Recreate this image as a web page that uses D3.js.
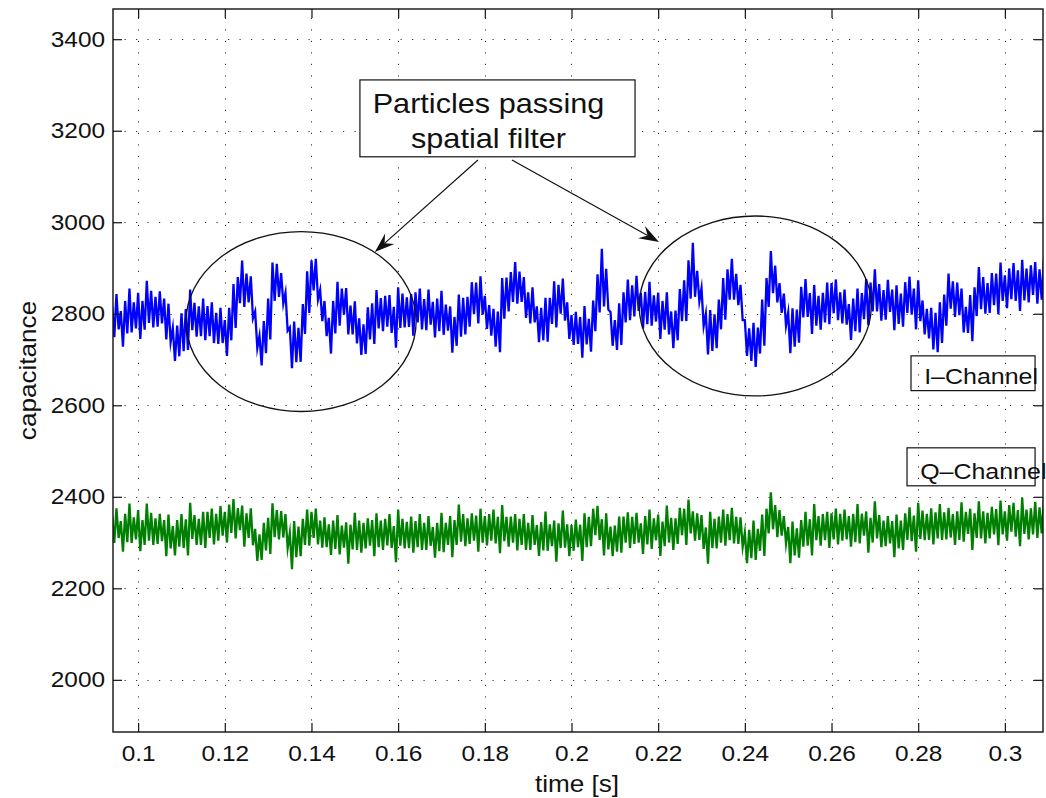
<!DOCTYPE html>
<html>
<head>
<meta charset="utf-8">
<script src="https://cdn.jsdelivr.net/npm/d3@7"></script>
<style>
  body { margin: 0; background: #fff; }
  svg { display: block; }
  text { font-family: "Liberation Sans", Arial, Helvetica, sans-serif; fill: #111; }
</style>
</head>
<body>
<svg id="chart" width="1046" height="798"></svg>
<script>
// Sampling of both channels: one min/max reading pair per millisecond
const sampleStart = 0.094;
const sampleStep = 0.001;

// I-Channel (blue): upper and lower extent of the trace in each millisecond
const iHigh = [
  2817,2843,2806,2828,2855,2825,2846,2828,2872,2850,
  2837,2849,2833,2822,2769,2774,2801,2810,2853,2824,
  2816,2833,2817,2825,2802,2813,2786,2813,2865,2880,
  2916,2888,2882,2805,2752,2784,2833,2912,2909,2889,
  2846,2770,2783,2769,2821,2893,2917,2920,2852,2828,
  2791,2828,2870,2855,2856,2818,2827,2790,2777,2814,
  2823,2852,2834,2839,2841,2815,2858,2844,2836,2843,
  2847,2855,2832,2853,2826,2833,2850,2820,2816,2793,
  2842,2835,2837,2869,2868,2882,2839,2819,2811,2805,
  2878,2879,2891,2913,2892,2880,2847,2858,2816,2813,
  2835,2835,2871,2863,2877,2825,2797,2804,2793,2817,
  2789,2829,2886,2942,2898,2804,2786,2823,2847,2875,
  2862,2883,2846,2848,2870,2840,2846,2828,2847,2805,
  2807,2854,2873,2917,2955,2894,2856,2800,2808,2799,
  2831,2878,2897,2920,2887,2863,2786,2768,2780,2770,
  2831,2878,2937,2905,2867,2844,2803,2812,2809,2859,
  2876,2845,2863,2839,2846,2868,2867,2875,2847,2853,
  2821,2833,2855,2845,2876,2868,2897,2865,2852,2874,
  2853,2862,2844,2869,2881,2855,2873,2829,2811,2813,
  2802,2825,2842,2888,2871,2868,2855,2815,2841,2858,
  2902,2880,2867,2889,2888,2912,2884,2899,2911,2895,
  2918,2899,2906,2913,2897,2920
];
const iLow = [
  2749,2766,2728,2757,2759,2768,2745,2765,2780,2770,
  2772,2779,2744,2738,2697,2707,2718,2721,2764,2750,
  2751,2742,2751,2736,2734,2736,2708,2742,2769,2823,
  2815,2825,2790,2725,2687,2714,2744,2828,2837,2822,
  2763,2681,2694,2695,2756,2802,2851,2831,2784,2751,
  2713,2757,2774,2798,2755,2755,2735,2710,2712,2744,
  2734,2768,2762,2772,2758,2726,2769,2770,2771,2752,
  2781,2766,2764,2776,2748,2762,2754,2763,2715,2730,
  2750,2755,2772,2799,2779,2798,2767,2752,2728,2716,
  2789,2805,2826,2822,2826,2791,2779,2781,2738,2742,
  2739,2778,2770,2800,2785,2745,2732,2734,2704,2733,
  2717,2762,2803,2816,2809,2730,2721,2732,2781,2786,
  2794,2806,2768,2777,2774,2783,2745,2765,2755,2725,
  2742,2784,2784,2833,2837,2827,2773,2711,2719,2725,
  2766,2787,2831,2831,2819,2786,2708,2697,2684,2713,
  2730,2815,2845,2825,2802,2774,2714,2728,2737,2792,
  2793,2756,2774,2765,2781,2777,2801,2786,2779,2776,
  2743,2762,2759,2788,2775,2805,2805,2785,2787,2804,
  2764,2778,2772,2802,2798,2766,2784,2755,2746,2722,
  2716,2736,2774,2811,2793,2797,2759,2758,2740,2795,
  2810,2800,2802,2819,2799,2828,2812,2832,2828,2806,
  2829,2825,2841,2822,2831,2831
];

// Q-Channel (green): upper and lower extent of the trace in each millisecond
const qHigh = [
  2358,2375,2347,2363,2385,2355,2371,2349,2385,2365,
  2353,2363,2349,2361,2336,2349,2362,2351,2387,2360,
  2352,2367,2367,2374,2363,2380,2367,2383,2395,2375,
  2381,2364,2375,2330,2318,2343,2354,2386,2371,2369,
  2362,2321,2347,2335,2352,2372,2367,2374,2348,2355,
  2340,2348,2360,2337,2344,2339,2365,2348,2343,2353,
  2349,2364,2348,2352,2362,2336,2372,2352,2345,2357,
  2347,2362,2343,2358,2334,2343,2365,2343,2358,2349,
  2383,2362,2353,2364,2359,2374,2358,2362,2372,2356,
  2382,2356,2357,2362,2352,2362,2343,2360,2338,2345,
  2368,2340,2348,2342,2370,2340,2338,2350,2339,2364,
  2356,2374,2380,2351,2364,2335,2337,2357,2357,2366,
  2356,2365,2342,2358,2372,2353,2361,2346,2381,2354,
  2353,2376,2374,2394,2368,2364,2360,2333,2367,2352,
  2357,2372,2362,2376,2356,2355,2322,2328,2348,2330,
  2361,2374,2410,2382,2371,2358,2334,2346,2331,2349,
  2367,2351,2384,2358,2362,2367,2364,2374,2363,2372,
  2358,2363,2384,2363,2368,2354,2390,2360,2348,2358,
  2347,2361,2348,2364,2377,2359,2387,2370,2363,2375,
  2366,2384,2366,2376,2362,2368,2388,2367,2374,2364,
  2390,2368,2365,2378,2373,2392,2368,2382,2387,2371,
  2398,2372,2375,2389,2377,2394
];
const qLow = [
  2299,2310,2280,2301,2299,2307,2281,2295,2304,2295,
  2297,2303,2270,2287,2272,2291,2288,2272,2308,2295,
  2295,2288,2310,2296,2304,2315,2300,2321,2309,2327,
  2291,2310,2294,2260,2262,2283,2275,2312,2307,2311,
  2288,2242,2268,2270,2295,2293,2310,2296,2289,2290,
  2273,2286,2274,2289,2254,2285,2284,2278,2287,2293,
  2270,2290,2284,2294,2288,2257,2293,2287,2288,2278,
  2290,2284,2284,2293,2267,2281,2279,2295,2268,2295,
  2302,2292,2297,2304,2280,2300,2294,2304,2298,2277,
  2303,2291,2300,2283,2295,2284,2284,2295,2271,2283,
  2282,2292,2258,2288,2289,2270,2282,2290,2260,2290,
  2292,2316,2306,2272,2285,2270,2280,2278,2300,2288,
  2297,2300,2275,2296,2286,2305,2271,2292,2300,2284,
  2297,2316,2295,2320,2304,2306,2286,2254,2288,2287,
  2300,2293,2305,2298,2297,2290,2255,2266,2262,2282,
  2271,2320,2329,2312,2315,2298,2255,2272,2267,2291,
  2293,2272,2305,2293,2305,2288,2307,2296,2304,2307,
  2291,2301,2298,2315,2278,2300,2309,2290,2292,2298,
  2268,2287,2284,2306,2303,2280,2308,2305,2306,2296,
  2309,2306,2307,2311,2295,2306,2302,2319,2284,2310,
  2309,2298,2309,2318,2294,2318,2304,2324,2313,2292,
  2319,2307,2318,2310,2320,2316
];

// Axis ticks and ranges
const xTicks = [0.1, 0.12, 0.14, 0.16, 0.18, 0.2, 0.22, 0.24, 0.26, 0.28, 0.3];
const yTicks = [2000, 2200, 2400, 2600, 2800, 3000, 3200, 3400];
const xDomain = [0.0942, 0.3088];
const yDomain = [1886, 3466];

const xLabel = "time [s]";
const yLabel = "capacitance";
const seriesNames = ["I\u2013Channel", "Q\u2013Channel"];
const noteLines = ["Particles passing", "spatial filter"];

// ---------------------------------------------------------------
const plot = { left: 113, right: 1043, top: 9, bottom: 732 };
const stretch = 1.135;           // horizontal stretch of the lettering
const fontPx = 21.5;

const svg = d3.select("#chart");
const x = d3.scaleLinear().domain(xDomain).range([plot.left, plot.right]);
const y = d3.scaleLinear().domain(yDomain).range([plot.bottom, plot.top]);

svg.append("defs").append("clipPath").attr("id", "plotClip")
  .append("rect")
  .attr("x", plot.left).attr("y", plot.top)
  .attr("width", plot.right - plot.left).attr("height", plot.bottom - plot.top);

// dotted grid
const grid = svg.append("g").attr("stroke", "#333").attr("stroke-width", 1)
  .attr("stroke-dasharray", "1.2 10.3");
grid.selectAll("line.v").data(xTicks).join("line")
  .attr("x1", d => Math.round(x(d)) + 0.5).attr("x2", d => Math.round(x(d)) + 0.5)
  .attr("y1", plot.bottom).attr("y2", plot.top);
grid.selectAll("line.h").data(yTicks).join("line")
  .attr("y1", d => Math.round(y(d)) + 0.5).attr("y2", d => Math.round(y(d)) + 0.5)
  .attr("x1", plot.left).attr("x2", plot.right);

// traces: each millisecond contributes its upper then its lower reading
function tracePoints(hi, lo) {
  const pts = [];
  hi.forEach((h, i) => {
    const t = sampleStart + i * sampleStep;
    pts.push([t, h]);
    pts.push([t + sampleStep / 2, lo[i]]);
  });
  return pts;
}
const line = d3.line().x(d => x(d[0])).y(d => y(d[1]));
const traces = svg.append("g").attr("clip-path", "url(#plotClip)");
[[qHigh, qLow, "#008000"], [iHigh, iLow, "#0000ff"]].forEach(([hi, lo, colour]) => {
  const pts = tracePoints(hi, lo);
  traces.append("path").datum(pts)
    .attr("d", line).attr("fill", "none").attr("stroke", colour)
    .attr("stroke-width", 2.3).attr("stroke-linejoin", "miter").attr("stroke-miterlimit", 10);
});

// annotations (data coordinates)
const ann = svg.append("g");
const ellipses = [
  { t: 0.1376, v: 2783, dt: 0.02655, dv: 196.6 },
  { t: 0.2424, v: 2817, dt: 0.02678, dv: 196.6 }
];
ann.selectAll("ellipse").data(ellipses).join("ellipse")
  .attr("cx", d => x(d.t)).attr("cy", d => y(d.v))
  .attr("rx", d => x(d.t + d.dt) - x(d.t)).attr("ry", d => y(d.v) - y(d.v + d.dv))
  .attr("fill", "none").attr("stroke", "#111").attr("stroke-width", 1.3);

const arrows = [
  { t0: 0.17841, v0: 3136, t1: 0.15462, v1: 2935 },
  { t0: 0.18626, v0: 3136, t1: 0.22019, v1: 2957 }
];
arrows.forEach(a => {
  const x0 = x(a.t0), y0 = y(a.v0), x1 = x(a.t1), y1 = y(a.v1);
  const len = Math.hypot(x1 - x0, y1 - y0);
  const ux = (x1 - x0) / len, uy = (y1 - y0) / len;
  const nx = -uy, ny = ux;
  const L = 20, W = 7, notch = 13;
  ann.append("line").attr("x1", x0).attr("y1", y0)
    .attr("x2", x1 - ux * notch).attr("y2", y1 - uy * notch)
    .attr("stroke", "#111").attr("stroke-width", 1.2);
  ann.append("path")
    .attr("d", `M${x1},${y1} L${x1 - ux * L + nx * W},${y1 - uy * L + ny * W} ` +
               `L${x1 - ux * notch},${y1 - uy * notch} ` +
               `L${x1 - ux * L - nx * W},${y1 - uy * L - ny * W} Z`)
    .attr("fill", "#111");
});

function stretchedText(g, px, py, str, size, anchor) {
  return g.append("text")
    .attr("transform", `translate(${px},${py}) scale(${stretch},1)`)
    .attr("text-anchor", anchor || "start")
    .attr("font-size", size)
    .text(str);
}

// note box
const note = { t0: 0.15118, t1: 0.21466, v0: 3143, v1: 3311 };
ann.append("rect")
  .attr("x", x(note.t0)).attr("y", y(note.v1))
  .attr("width", x(note.t1) - x(note.t0)).attr("height", y(note.v0) - y(note.v1))
  .attr("fill", "#fff").attr("stroke", "#111").attr("stroke-width", 1.2);
const noteCx = (x(note.t0) + x(note.t1)) / 2 - 9;
stretchedText(ann, noteCx, y(note.v1) + 33, noteLines[0], 27, "middle");
stretchedText(ann, noteCx, y(note.v1) + 68, noteLines[1], 27, "middle");

// channel labels
const labels = [
  { t0: 0.27834, t1: 0.30697, v0: 2632, v1: 2708, name: seriesNames[0], tx: 0.28138 },
  { t0: 0.27742, t1: 0.30697, v0: 2424, v1: 2507, name: seriesNames[1], tx: 0.28046 }
];
labels.forEach(l => {
  ann.append("rect")
    .attr("x", x(l.t0)).attr("y", y(l.v1))
    .attr("width", x(l.t1) - x(l.t0)).attr("height", y(l.v0) - y(l.v1))
    .attr("fill", "none").attr("stroke", "#111").attr("stroke-width", 1.2);
  stretchedText(ann, x(l.tx), y(l.v0) - 7, l.name, 22, "start");
});

// axes with inward ticks on all four sides
function styleAxis(g) {
  g.attr("font-family", null).attr("font-size", null);
  g.select(".domain").remove();
  g.selectAll(".tick line").attr("stroke", "#111").attr("stroke-width", 1.2);
  g.selectAll(".tick text").attr("font-size", fontPx).attr("fill", "#111");
}
const fmt = d => String(d);
svg.append("g").attr("transform", `translate(0,${plot.bottom})`)
  .call(d3.axisBottom(x).tickValues(xTicks).tickFormat(fmt).tickSizeInner(-9).tickSizeOuter(0).tickPadding(14))
  .call(styleAxis)
  .call(g => g.selectAll(".tick text").attr("transform", `scale(${stretch},1)`));
svg.append("g").attr("transform", `translate(0,${plot.top})`)
  .call(d3.axisTop(x).tickValues(xTicks).tickFormat("").tickSizeInner(-9).tickSizeOuter(0))
  .call(styleAxis);
svg.append("g").attr("transform", `translate(${plot.left},0)`)
  .call(d3.axisLeft(y).tickValues(yTicks).tickFormat(fmt).tickSizeInner(-9).tickSizeOuter(0).tickPadding(7))
  .call(styleAxis)
  .call(g => g.selectAll(".tick text").attr("transform", `scale(${stretch},1)`));
svg.append("g").attr("transform", `translate(${plot.right},0)`)
  .call(d3.axisRight(y).tickValues(yTicks).tickFormat("").tickSizeInner(-9).tickSizeOuter(0))
  .call(styleAxis);

// frame
svg.append("rect")
  .attr("x", plot.left).attr("y", plot.top)
  .attr("width", plot.right - plot.left).attr("height", plot.bottom - plot.top)
  .attr("fill", "none").attr("stroke", "#111").attr("stroke-width", 1.4);

// axis titles
stretchedText(svg, 577, 792, xLabel, 23, "middle");
svg.append("text")
  .attr("transform", `translate(36,${(plot.top + plot.bottom) / 2}) rotate(-90) scale(${stretch},1)`)
  .attr("text-anchor", "middle").attr("font-size", 23)
  .text(yLabel);
</script>
</body>
</html>
